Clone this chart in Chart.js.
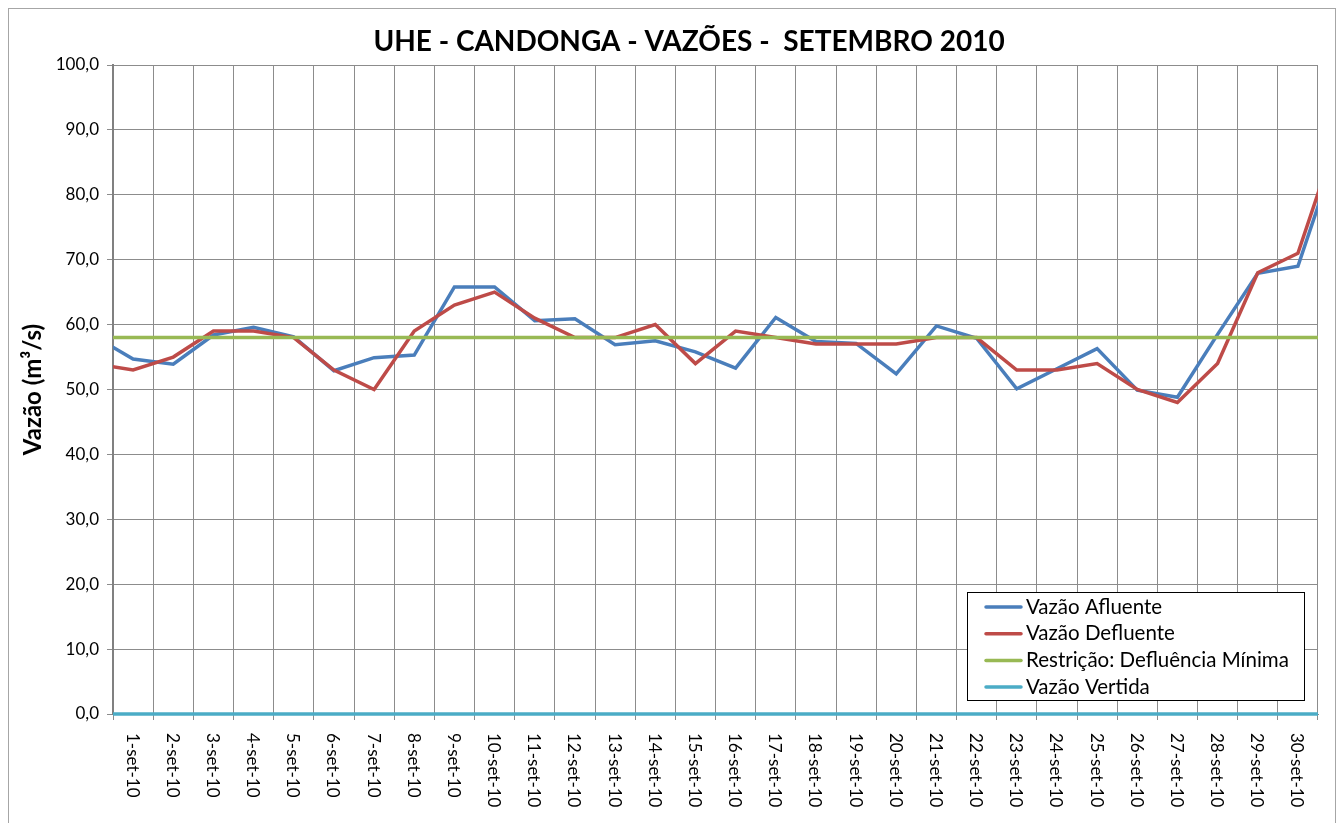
<!DOCTYPE html>
<html>
<head>
<meta charset="utf-8">
<title>UHE - CANDONGA - VAZÕES - SETEMBRO 2010</title>
<script src="https://cdn.jsdelivr.net/npm/chart.js@4/dist/chart.umd.min.js"></script>
<style>
  body { margin: 0; background: #ffffff; }
  #wrap { width: 1340px; height: 823px; }
</style>
</head>
<body>
<div id="wrap"><canvas id="myChart" width="1340" height="823"></canvas></div>
<script>
// first and last entries are the neighbouring days, cut off at the plot edges
const days = [
  "31-ago-10",
  "1-set-10", "2-set-10", "3-set-10", "4-set-10", "5-set-10", "6-set-10",
  "7-set-10", "8-set-10", "9-set-10", "10-set-10", "11-set-10", "12-set-10",
  "13-set-10", "14-set-10", "15-set-10", "16-set-10", "17-set-10", "18-set-10",
  "19-set-10", "20-set-10", "21-set-10", "22-set-10", "23-set-10", "24-set-10",
  "25-set-10", "26-set-10", "27-set-10", "28-set-10", "29-set-10", "30-set-10",
  "1-out-10",
];
const vazaoAfluente = [
  58.3, 54.7, 53.9, 58.4, 59.6, 58.1, 52.9, 54.9, 55.3, 65.8, 65.8,
  60.6, 60.9, 56.9, 57.5, 55.8, 53.3, 61.1, 57.4, 57.1, 52.4,
  59.8, 57.9, 50.1, 53.2, 56.3, 49.9, 48.8, 58.5, 67.9, 69.0, 87.4,
];
const vazaoDefluente = [
  54, 53, 55, 59, 59, 58, 53, 50, 59, 63, 65,
  61, 58, 58, 60, 54, 59, 58, 57, 57, 57,
  58, 58, 53, 53, 54, 50, 48, 54, 68, 71, 89.4,
];
const defluenciaMinima = [
  58, 58, 58, 58, 58, 58, 58, 58, 58, 58, 58,
  58, 58, 58, 58, 58, 58, 58, 58, 58, 58,
  58, 58, 58, 58, 58, 58, 58, 58, 58, 58, 58,
];
const vazaoVertida = [
  0, 0, 0, 0, 0, 0, 0, 0, 0, 0, 0,
  0, 0, 0, 0, 0, 0, 0, 0, 0, 0,
  0, 0, 0, 0, 0, 0, 0, 0, 0, 0, 0,
];
const yTicks = [0, 10, 20, 30, 40, 50, 60, 70, 80, 90, 100];

const FONT = "Lato, 'Open Sans', sans-serif";
const GRID = "#8c8c8c";

function series(label, data, color, order) {
  return {
    label: label,
    data: data,
    borderColor: color,
    backgroundColor: color,
    borderWidth: 3.5,
    pointRadius: 0,
    pointHoverRadius: 0,
    tension: 0,
    fill: false,
    order: order,
    clip: { left: 0, right: 0, top: 4, bottom: 4 },
  };
}

const frame = {
  id: "frame",
  beforeDraw(chart) {
    const ctx = chart.ctx;
    ctx.save();
    ctx.fillStyle = "#ffffff";
    ctx.fillRect(0, 0, chart.width, chart.height);
    ctx.strokeStyle = "#a6a6a6";
    ctx.lineWidth = 1;
    ctx.strokeRect(8.5, 8.5, 1327, 830);
    ctx.restore();
  },
  afterDraw(chart) {
    const ctx = chart.ctx;
    const x = chart.scales.x;
    ctx.save();

    // title
    ctx.fillStyle = "#000000";
    ctx.font = "bold 28px " + FONT;
    ctx.textAlign = "center";
    ctx.textBaseline = "alphabetic";
    ctx.fillText("UHE - CANDONGA - VAZÕES -  SETEMBRO 2010", 689, 51);

    // day labels, read top to bottom
    ctx.font = "17px " + FONT;
    ctx.textAlign = "left";
    ctx.textBaseline = "middle";
    x.ticks.forEach((tick, i) => {
      ctx.save();
      ctx.translate(x.getPixelForTick(i) - 1, x.top + 19);
      ctx.rotate(Math.PI / 2);
      ctx.fillText(x.getLabelForValue(tick.value), 0, 0);
      ctx.restore();
    });

    // legend
    ctx.fillStyle = "#ffffff";
    ctx.fillRect(967.5, 592.5, 337, 108);
    ctx.strokeStyle = "#000000";
    ctx.lineWidth = 1;
    ctx.strokeRect(967.5, 592.5, 337, 108);
    ctx.font = "20.5px " + FONT;
    ctx.lineCap = "round";
    chart.data.datasets.forEach((ds, i) => {
      const y = 607 + i * 26.7;
      ctx.strokeStyle = ds.borderColor;
      ctx.lineWidth = 3.5;
      ctx.beginPath();
      ctx.moveTo(986, y);
      ctx.lineTo(1021, y);
      ctx.stroke();
      ctx.fillStyle = "#000000";
      ctx.fillText(ds.label, 1026, y);
    });
    ctx.restore();
  },
};

const ctx = document.getElementById("myChart").getContext("2d");
new Chart(ctx, {
  type: "line",
  data: {
    labels: days,
    datasets: [
      series("Vazão Afluente", vazaoAfluente, "#4a7ebb", 4),
      series("Vazão Defluente", vazaoDefluente, "#be4b48", 3),
      series("Restrição: Defluência Mínima", defluenciaMinima, "#98b954", 2),
      series("Vazão Vertida", vazaoVertida, "#4bacc6", 1),
    ],
  },
  options: {
    responsive: false,
    animation: false,
    devicePixelRatio: 1,
    layout: { padding: { left: 9, right: 22, top: 65, bottom: 0 } },
    plugins: {
      legend: { display: false },
      title: { display: false },
      tooltip: { enabled: false },
    },
    scales: {
      x: {
        type: "category",
        offset: true,
        afterDataLimits: (scale) => {
          scale.min = 1;
          scale.max = days.length - 2;
        },
        afterFit: (scale) => {
          scale.height = 109;
        },
        grid: { color: GRID, lineWidth: 1, offset: true, tickLength: 6 },
        border: { color: GRID, width: 1 },
        ticks: { display: false },
      },
      y: {
        min: yTicks[0],
        max: yTicks[yTicks.length - 1],
        afterBuildTicks: (scale) => {
          scale.ticks = yTicks.map((v) => ({ value: v }));
        },
        afterFit: (scale) => {
          scale.width = 104;
        },
        grid: { color: GRID, lineWidth: 1, tickLength: 6 },
        border: { color: "#808080", width: 2 },
        ticks: {
          color: "#000000",
          padding: 8,
          font: { family: FONT, size: 17 },
          callback: (v) => v.toFixed(1).replace(".", ","),
        },
        title: {
          display: true,
          text: "Vazão (m³/s)",
          color: "#000000",
          font: { family: FONT, size: 24, weight: "bold" },
          padding: { top: 10, bottom: 0 },
        },
      },
    },
  },
  plugins: [frame],
});
</script>
</body>
</html>
